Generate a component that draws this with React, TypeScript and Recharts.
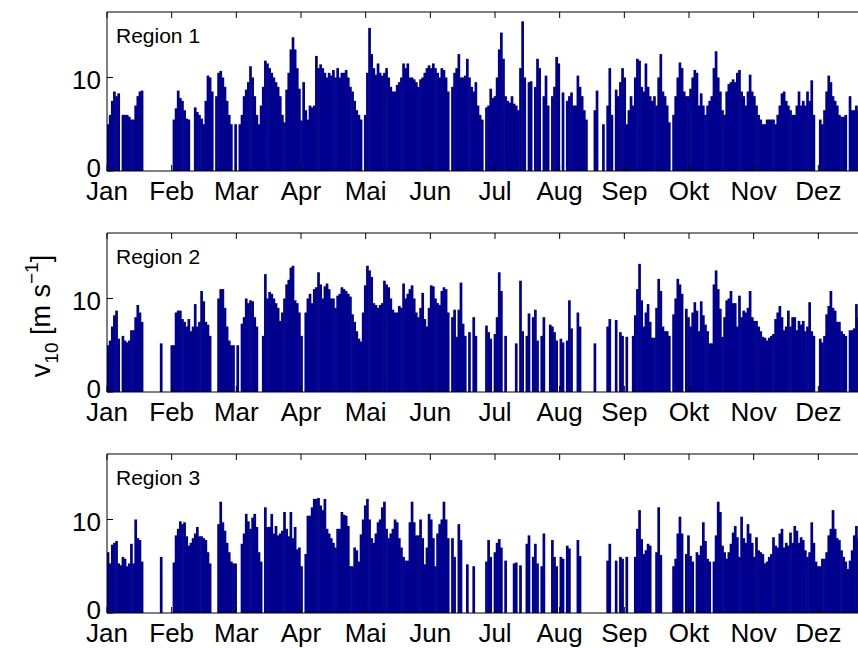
import React from 'react';
import { BarChart, Bar, XAxis, YAxis, ReferenceLine } from 'recharts';

const monthLabels = ['Jan', 'Feb', 'Mar', 'Apr', 'Mai', 'Jun', 'Jul', 'Aug', 'Sep', 'Okt', 'Nov', 'Dez'];
const regionNames = ['Region 1', 'Region 2', 'Region 3'];
const yTicks = [0, 10];
const yMax = 17;
const daysInYear = 365;

// daily wind speed v10 [m/s], day 0 = 1 Jan
const region1 = [
  5, 6, 7.5, 8.5, 8, 8.3, 0, 6, 6, 6,
  5.8, 5.5, 5.5, 7, 8, 8.5, 8.6, 0, 0, 0,
  0, 0, 0, 0, 0, 0, 0, 0, 0, 0,
  0, 5.5, 6.7, 8.6, 7.8, 7.5, 6.5, 5.6, 5.5, 0,
  0, 6.8, 6.3, 6, 5.6, 5, 7.5, 10.2, 10, 8.5,
  0, 8, 10.5, 10.7, 10, 9, 7.5, 6, 5, 0,
  5, 0, 5, 6, 8, 8.7, 9.5, 11.2, 10, 8,
  6, 5, 7, 9, 11.8, 11.5, 11, 10.5, 10, 9.5,
  9, 8, 6, 5.2, 8.7, 10.5, 13, 14.3, 13, 11,
  8.8, 5.4, 9.5, 6.5, 5.5, 7, 6.8, 7, 12.3, 11,
  11.4, 11, 10.5, 10, 10.5, 10.2, 10.8, 10, 11, 10,
  10.5, 10.5, 10.8, 10, 9, 8.5, 7.5, 6.5, 6, 5.5,
  0, 6, 10.5, 15.3, 12.5, 11, 10.3, 11.5, 10.5, 10.2,
  10.5, 11, 10, 9, 8.5, 8.5, 9.2, 9.5, 10, 11.5,
  11, 11.5, 10, 10, 9.8, 9.5, 9, 9.8, 10, 10.5,
  11, 11.3, 11, 11.5, 11, 10.5, 10, 11, 10.8, 10,
  8.5, 0, 9, 10.5, 11, 12.5, 10, 10, 10.2, 12,
  10, 9, 8.5, 9.5, 7, 6, 5.5, 0, 6.8, 7,
  8.8, 7.8, 8, 10, 13, 14.8, 12, 8, 7.5, 7.3,
  8, 7.2, 7, 6.5, 11, 16, 10, 0, 9.5, 9.6,
  0, 9, 12, 11, 0, 8, 10.2, 7, 0, 8,
  9, 12.2, 11.5, 0, 8.4, 0, 7.5, 8, 8.4, 7,
  7, 10.2, 9, 8, 6.5, 5.5, 0, 0, 0, 6.5,
  8.6, 0, 0, 5, 0, 7, 11, 6, 0, 8.7,
  8, 9.5, 11, 10, 5, 6.5, 8, 7, 10, 12,
  11.8, 9, 8.5, 11.5, 9, 8, 7.5, 8, 7, 10,
  12.5, 8.5, 8, 7, 5.2, 0, 6, 8, 10, 11.6,
  11, 8.5, 8, 8, 8.8, 10, 10.8, 10.5, 7, 8.3,
  7, 6, 7, 7.5, 8, 11, 12.8, 10, 8.5, 6.5,
  6, 8.5, 9.3, 9.5, 9.8, 9.5, 10.5, 10.8, 8.5, 8,
  7, 8.5, 10.3, 8.5, 8, 7, 6, 5.5, 5, 5,
  5.5, 5.5, 5.5, 5.5, 5, 6, 7, 8.3, 8.5, 7.5,
  7, 6.5, 6, 6, 7, 8.5, 7, 7.5, 7, 8.5,
  7.5, 9.7, 6, 0, 0, 5.5, 5, 6.5, 8.5, 10.2,
  9.5, 8, 7.5, 7, 6, 5.8, 5.8, 6, 0, 8,
  6.5, 6.5, 7, 6.5, 7, 6.5, 6, 7, 8, 7,
  6, 5.5, 6, 7, 6,
];

const region2 = [
  5, 5.5, 7, 8.2, 8.7, 5.7, 0, 6, 5.5, 5.3,
  5.5, 6.6, 6.6, 8, 9.3, 8.5, 7.5, 0, 0, 0,
  0, 0, 0, 0, 0, 5.2, 0, 0, 0, 0,
  5, 5, 8.5, 8.7, 8.7, 7.8, 7.5, 7, 7.8, 6.5,
  7, 9.4, 7, 7.5, 10.8, 9.7, 7.5, 7.2, 6, 0,
  0, 0, 10, 11, 11, 9, 7, 5.5, 5, 5,
  0, 5, 0, 7.3, 8, 10, 9.5, 9.8, 9.7, 8,
  7, 0, 0, 6, 12.6, 10, 10.7, 10.5, 10, 9.5,
  9, 7.6, 8.5, 10, 11.5, 12, 13.3, 13.5, 9.8, 9.5,
  8.5, 6, 0, 8.5, 10, 10.5, 9.5, 11, 11.2, 12.8,
  11.5, 10, 11.3, 11.6, 11, 10, 10, 9, 10.3, 10.5,
  11.2, 11, 10.8, 10.5, 10.2, 8.3, 7.5, 6.5, 5.7, 5.4,
  8.5, 11.4, 13.5, 13, 12.3, 9.5, 9.3, 9, 9.3, 9.5,
  11.9, 11.5, 11.2, 10, 8.8, 8.5, 8.5, 9.2, 9, 11.6,
  10, 10.5, 11, 11.4, 10, 8.5, 8, 9, 10.6, 7.8,
  7, 9, 11.4, 11.3, 10, 9.5, 9.3, 10.8, 11.2, 11,
  8.5, 0, 8, 8.8, 5.9, 8.8, 11.7, 7.3, 6, 0,
  6.4, 0, 8, 6, 0, 0, 0, 0, 7.1, 6.4,
  5.7, 0, 6.2, 8, 12.8, 10.8, 0, 6, 0, 0,
  0, 0, 5.2, 0, 11.9, 6.5, 0, 6, 8.4, 0,
  8, 8.8, 5.5, 0, 6, 8, 0, 0, 7.2, 7,
  6.4, 5.5, 0, 5.7, 5.3, 0, 5.5, 9.8, 6.8, 0,
  0, 8.5, 7, 0, 0, 0, 0, 0, 0, 5.2,
  0, 0, 0, 0, 0, 7, 7.8, 0, 0, 7.7,
  0, 6.4, 6, 0, 5.9, 0, 0, 6, 8.2, 11,
  13.7, 9.8, 7, 8.5, 9.4, 7.5, 5.8, 5.8, 9, 12.1,
  10.8, 7, 6.5, 6.5, 6, 0, 8.3, 10, 12.1, 11.5,
  10.5, 0, 8.9, 8, 7, 8.5, 9.6, 8.7, 6.5, 9.7,
  8.2, 7.2, 6.5, 5.2, 5.2, 11.5, 13, 11, 8.9, 5.9,
  8, 9.8, 10, 10.8, 9.5, 9.5, 7, 10.3, 8, 8.7,
  8.5, 9, 10.8, 8, 7.6, 7.6, 7, 6.5, 5.9, 5.8,
  5.5, 5.8, 6, 6.2, 7.8, 8.5, 9.2, 8, 6.6, 7,
  8.7, 7, 8, 8, 6.6, 7.6, 7.2, 7.6, 6.5, 7,
  9.6, 6.5, 6, 0, 0, 5.7, 5.3, 6, 8.3, 9.2,
  10.8, 9, 8.7, 7.5, 7.5, 6.5, 6.2, 6, 0, 6.6,
  6.6, 6.8, 9.4, 8, 7, 6.5, 6, 7, 8, 7,
  6, 5.5, 6, 7, 6,
];

const region3 = [
  6.5, 5.3, 7.3, 7.5, 7.7, 5.3, 5.1, 6, 5.8, 5,
  5.3, 7.4, 5.3, 10, 8, 7.8, 5.5, 0, 0, 0,
  0, 0, 0, 0, 0, 6, 0, 0, 0, 0,
  0, 5.4, 8.3, 9, 9.8, 9.5, 9.7, 8.2, 7.2, 7.5,
  8, 8.5, 9.2, 8.2, 8.2, 8, 7.8, 6.5, 5.3, 0,
  0, 0, 9.5, 11.9, 9.7, 8.8, 7.5, 6.5, 5.5, 5.3,
  5.3, 0, 0, 7.4, 8.5, 10.6, 9.8, 9, 10.2, 10.6,
  9.2, 6.5, 5.5, 0, 11.3, 9.2, 9.2, 10.6, 8.5, 9.3,
  8.3, 8.5, 8.8, 10.8, 9, 8.2, 10.8, 8, 9.2, 6.8,
  7, 5, 0, 6.3, 10.4, 10.4, 11.3, 12.2, 12.2, 12.3,
  11.5, 11, 12.2, 9, 8.5, 8, 7.5, 7, 9, 9,
  10.8, 10.5, 10.4, 9.3, 5, 5, 7, 6.7, 5.5, 8.4,
  10, 11.5, 12.2, 10, 8, 7.5, 8.5, 9.7, 10, 11.3,
  11.9, 9, 8, 8.5, 9, 10, 9.7, 8, 7, 6,
  5.6, 5.6, 9.7, 11.9, 9.7, 8.3, 8.3, 10, 8, 5.2,
  7, 10.6, 10, 8, 5, 8.5, 9.5, 10, 11.9, 10,
  8, 0, 8, 6, 0, 9.5, 7.8, 0, 0, 5.2,
  0, 0, 5, 0, 0, 0, 0, 0, 5.5, 7.8,
  6, 0, 6.5, 7.5, 7.9, 7, 0, 5.6, 0, 0,
  0, 5.3, 5.4, 0, 5.1, 0, 0, 7.4, 8.3, 0,
  6, 7.4, 5.3, 0, 5, 8.5, 0, 0, 0, 7.8,
  6, 5, 0, 6, 5.8, 0, 7.2, 6.9, 0, 0,
  0, 7.8, 6.1, 0, 0, 0, 0, 0, 0, 0,
  0, 0, 0, 0, 0, 5.6, 7.4, 0, 0, 5.6,
  0, 6, 5.8, 0, 6, 0, 0, 0, 6, 9,
  11, 7.9, 6.3, 6.7, 7.4, 7.2, 0, 0, 6.5, 11.3,
  6.2, 0, 0, 0, 0, 0, 5, 5.8, 8.5, 10.3,
  8.5, 0, 6.3, 8.3, 6.1, 5.5, 0, 6.5, 6.2, 7.2,
  9.7, 7.7, 5.8, 5.5, 0, 5.5, 8.3, 11.9, 10.8, 7.2,
  6.5, 5.8, 6.5, 7.4, 8.6, 9.3, 8.1, 6, 10.3, 8,
  7.5, 9.5, 8.5, 7.5, 6, 8.1, 6.7, 6.5, 6.3, 5.3,
  5.5, 6, 6.3, 8.1, 7.2, 7, 8.5, 9, 7, 7.5,
  7.2, 8.6, 7.5, 9.3, 8.8, 7.5, 8.1, 7.8, 6.7, 6,
  6.5, 9.7, 7.5, 5.5, 5, 5, 5.8, 5.8, 6.5, 8.3,
  9, 11, 9, 8, 7.8, 6.7, 6, 5.5, 4.7, 5.6,
  6.7, 8.3, 9.3, 8, 7, 6.5, 6, 7, 8, 7,
  6, 5.5, 6, 7, 6,
];

const FONT = '"Liberation Sans", Arial, Helvetica, sans-serif';
const BAR_COLOR = '#00008F';
const CHART_W = 883;
const CHART_H = 221;
const MARGIN_TOP = 12;
const XAXIS_H = 50;
const PLOT_H = CHART_H - MARGIN_TOP - XAXIS_H;
const YAXIS_W = 107;
const TICK_FONT = 26;

const monthTicks = monthLabels.map((_, i) => (i * daysInYear) / 12);

const MonthTick = (props: any) => {
  const { x, y, payload } = props;
  const idx = Math.round((payload.value * 12) / daysInYear);
  return (
    <g>
      <line x1={x} x2={x} y1={y} y2={y - 6} stroke="#000" strokeWidth={1} />
      <line x1={x} x2={x} y1={y - PLOT_H} y2={y - PLOT_H + 6} stroke="#000" strokeWidth={1} />
      <text x={x} y={y + 29} textAnchor="middle" fontSize={TICK_FONT} fontFamily={FONT} fill="#000">
        {monthLabels[idx]}
      </text>
    </g>
  );
};

const ValueTick = (props: any) => {
  const { x, y, payload } = props;
  const dy = payload.value === 0 ? 6 : 12;
  return (
    <g>
      <line x1={x} x2={x + 6} y1={y} y2={y} stroke="#000" strokeWidth={1} />
      <text x={x - 6} y={y + dy} textAnchor="end" fontSize={TICK_FONT} fontFamily={FONT} fill="#000">
        {payload.value}
      </text>
    </g>
  );
};

// bars widened slightly so neighbouring days touch like the dense original
const BarShape = (props: any) => {
  const { x, y, width, height, fill } = props;
  if (!height || height <= 0) return null;
  return <rect x={x - 0.3} y={y} width={width + 0.7} height={height} fill={fill} />;
};

const series = [region1, region2, region3];

export default function App() {
  return (
    <div
      style={{
        position: 'absolute',
        left: 0,
        top: 0,
        width: 858,
        height: 648,
        overflow: 'hidden',
        background: '#fff',
      }}
    >
      {series.map((values, i) => {
        const rows = values.map((v, d) => ({ day: d + 0.5, v }));
        return (
          <div key={i} style={{ position: 'absolute', left: 0, top: i * CHART_H }}>
            <BarChart
              width={CHART_W}
              height={CHART_H}
              data={rows}
              margin={{ top: MARGIN_TOP, right: 0, bottom: 0, left: 0 }}
              barCategoryGap={0}
              barGap={0}
            >
              <XAxis
                type="number"
                dataKey="day"
                domain={[0, daysInYear]}
                ticks={monthTicks}
                interval={0}
                tick={MonthTick}
                tickLine={false}
                tickSize={0}
                tickMargin={0}
                height={XAXIS_H}
                axisLine={{ stroke: '#000', strokeWidth: 1 }}
                allowDataOverflow
              />
              <YAxis
                type="number"
                domain={[0, yMax]}
                ticks={yTicks}
                interval={0}
                width={YAXIS_W}
                tick={ValueTick}
                tickLine={false}
                tickSize={0}
                tickMargin={0}
                axisLine={{ stroke: '#000', strokeWidth: 1 }}
                allowDataOverflow
              />
              <Bar dataKey="v" fill={BAR_COLOR} shape={BarShape} isAnimationActive={false} />
              <ReferenceLine y={yMax} stroke="#000" strokeWidth={1} />
            </BarChart>
          </div>
        );
      })}
      <svg
        width={858}
        height={648}
        style={{ position: 'absolute', left: 0, top: 0, pointerEvents: 'none' }}
      >
        {regionNames.map((name, i) => (
          <text
            key={name}
            x={116}
            y={i * CHART_H + MARGIN_TOP + 31}
            fontSize={21}
            fontFamily={FONT}
            fill="#000"
          >
            {name}
          </text>
        ))}
        <text
          x={50}
          y={316}
          transform="rotate(-90, 50, 316)"
          textAnchor="middle"
          fontSize={27}
          fontFamily={FONT}
          fill="#000"
        >
          v
          <tspan fontSize={19} dy={8}>10</tspan>
          <tspan fontSize={27} dy={-8}> [m s</tspan>
          <tspan fontSize={19} dy={-12}>−1</tspan>
          <tspan fontSize={27} dy={12}>]</tspan>
        </text>
      </svg>
    </div>
  );
}
